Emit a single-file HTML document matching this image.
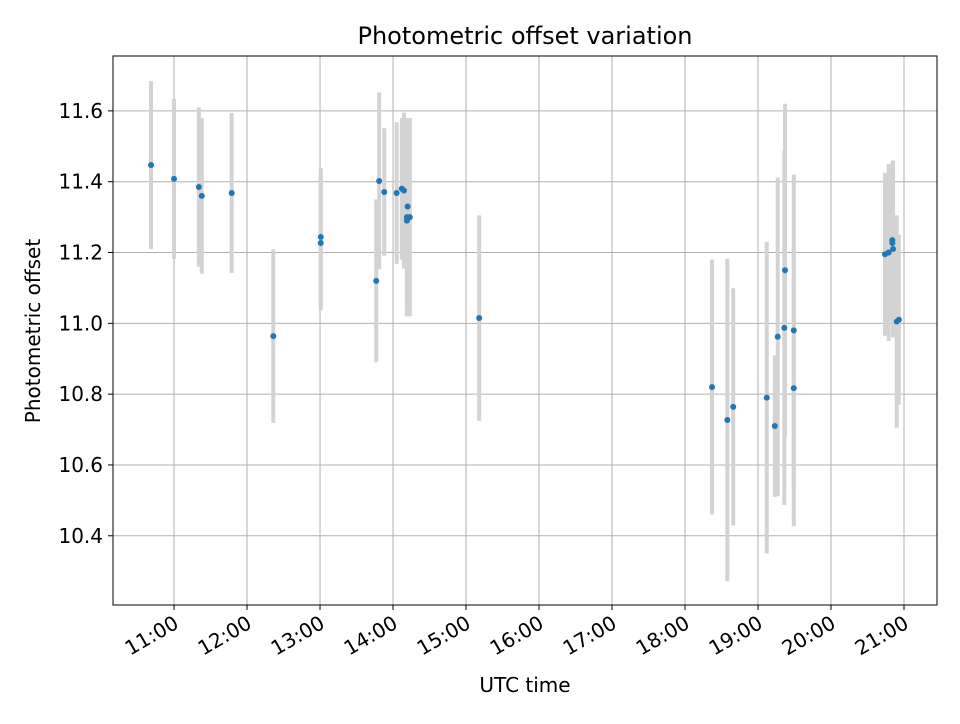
<!DOCTYPE html>
<html><head><meta charset="utf-8"><style>
body{margin:0;background:#fff;font-family:"DejaVu Sans","Liberation Sans",sans-serif}
svg text{font-family:"DejaVu Sans","Liberation Sans",sans-serif}
</style></head><body>
<svg id="chart" width="960" height="720" xmlns="http://www.w3.org/2000/svg">
<rect width="960" height="720" fill="#fff"/>
<g id="grid"></g><g id="bars"></g><g id="pts"></g><g id="axes"></g>
<text x="525" y="44" text-anchor="middle" font-size="24">Photometric offset variation</text>
<text x="525" y="692" text-anchor="middle" font-size="20">UTC time</text>
<text transform="translate(40,331) rotate(-90)" text-anchor="middle" font-size="20">Photometric offset</text>
</svg>
<script>
const hours=[10.685,11.0,11.34,11.38,11.79,12.36,13.01,13.01,13.77,13.81,13.88,14.05,14.12,14.15,14.2,14.19,14.19,14.23,15.18,18.37,18.58,18.66,19.12,19.23,19.27,19.36,19.37,19.49,19.49,20.74,20.79,20.85,20.84,20.84,20.9,20.93];
const offsets=[11.447,11.408,11.385,11.36,11.368,10.964,11.244,11.227,11.12,11.402,11.371,11.368,11.38,11.375,11.33,11.30,11.29,11.30,11.015,10.82,10.727,10.764,10.79,10.71,10.962,10.987,11.15,10.98,10.817,11.195,11.2,11.21,11.235,11.227,11.005,11.01];
const errors=[0.237,0.226,0.225,0.22,0.226,0.245,0.195,0.19,0.23,0.25,0.18,0.2,0.2,0.22,0.25,0.25,0.27,0.28,0.29,0.36,0.455,0.335,0.44,0.2,0.45,0.5,0.47,0.44,0.39,0.23,0.25,0.25,0.22,0.22,0.3,0.24];
const xTicks=[11,12,13,14,15,16,17,18,19,20,21];
const yTicks=[10.4,10.6,10.8,11.0,11.2,11.4,11.6];
const L=113,R=937,T=56,B=605,xMin=10.164,xMax=21.452,yMin=10.2045,yMax=11.755;
const X=h=>L+(h-xMin)/(xMax-xMin)*(R-L);
const Y=v=>B-(v-yMin)/(yMax-yMin)*(B-T);
const NS="http://www.w3.org/2000/svg";
function mk(tag,attrs,parent){const e=document.createElementNS(NS,tag);for(const k in attrs)e.setAttribute(k,attrs[k]);document.getElementById(parent).appendChild(e);return e;}
xTicks.forEach(h=>{const x=X(h);
 const g=mk('line',{x1:x,x2:x,y1:T,y2:B,stroke:'#b0b0b0','stroke-width':1},'grid');
 
 
 mk('line',{x1:x,x2:x,y1:B,y2:B+5,stroke:'#000'},'axes');
 const ax=x+6,ay=B+22;
 const t=mk('text',{x:ax,y:ay,'text-anchor':'end','font-size':20,transform:`rotate(-30 ${ax} ${ay})`},'axes');
 t.textContent=String(h).padStart(2,'0')+':00';
 
 
});
yTicks.forEach(v=>{const y=Y(v);
 const g=mk('line',{x1:L,x2:R,y1:y,y2:y,stroke:'#b0b0b0','stroke-width':1},'grid');
 
 
 mk('line',{x1:L-5,x2:L,y1:y,y2:y,stroke:'#000'},'axes');
 const t=mk('text',{x:L-10,y:y+7,'text-anchor':'end','font-size':20},'axes');
 t.textContent=v.toFixed(1);
 
 
});
const fr=mk('rect',{x:L,y:T,width:R-L,height:B-T,fill:'none',stroke:'#000','stroke-width':1},'axes');


hours.forEach((h,i)=>{
 const b=mk('line',{x1:X(h),x2:X(h),y1:Y(offsets[i]+errors[i]),y2:Y(offsets[i]-errors[i]),stroke:'#d3d3d3','stroke-width':4},'bars');
 
 
 const c=mk('circle',{cx:X(h),cy:Y(offsets[i]),r:3,fill:'#1f77b4'},'pts');
 
 
});
</script>
</body></html>
